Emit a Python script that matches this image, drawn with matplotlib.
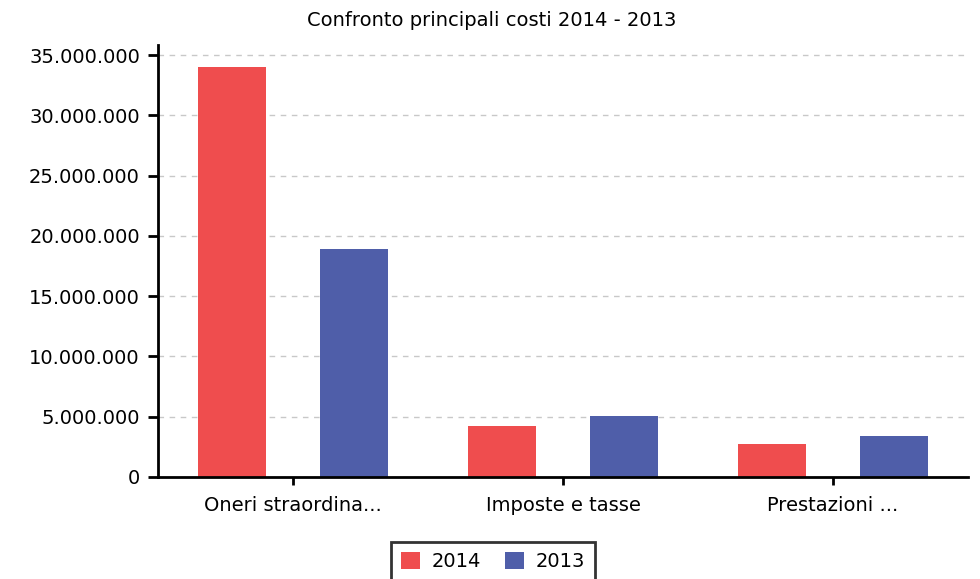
import matplotlib
matplotlib.use("Agg")
import matplotlib.pyplot as plt
import numpy as np
from matplotlib.ticker import FuncFormatter, MultipleLocator

categories = ["Oneri straordina...", "Imposte e tasse", "Prestazioni ..."]
values_2014 = [34000000, 4230000, 2740000]
values_2013 = [18920000, 5060000, 3400000]
series_labels = ["2014", "2013"]
colors = ["#ef4d4e", "#4f5ea9"]

fig = plt.figure(figsize=(9.8, 5.79), dpi=100)
ax = fig.add_axes([158 / 980, 1 - 477 / 579, 810 / 980, 431.6 / 579])

x = np.arange(len(categories))
w = 0.252
off = 0.226
ax.bar(x - off, values_2014, width=w, color=colors[0], label=series_labels[0], zorder=3)
ax.bar(x + off, values_2013, width=w, color=colors[1], label=series_labels[1], zorder=3)

ax.set_xlim(-0.5, 2.5)
ax.set_ylim(0, 35800000)
ax.yaxis.set_major_locator(MultipleLocator(5000000))
ax.yaxis.set_major_formatter(FuncFormatter(lambda v, p: f"{int(v):,}".replace(",", ".")))
ax.set_xticks(x)
ax.set_xticklabels(categories)

ax.grid(axis="y", color="#c8c8c8", linestyle=(0, (4, 4)), linewidth=1, zorder=0)
for s in ["top", "right"]:
    ax.spines[s].set_visible(False)
ax.spines["left"].set_linewidth(2)
ax.spines["bottom"].set_linewidth(2)
ax.spines["bottom"].set_zorder(4)
ax.tick_params(axis="y", length=7, width=2, labelsize=14, pad=6)
ax.tick_params(axis="x", length=6, width=2, labelsize=14, pad=8)

fig.text(492 / 980, 1 - 21 / 579, "Confronto principali costi 2014 - 2013",
         fontsize=14, ha="center", va="center")

leg = fig.legend(loc="lower center", bbox_to_anchor=(493 / 980, -0.02), ncol=2,
                 fontsize=14, frameon=True, fancybox=False, edgecolor="black",
                 handlelength=1.0, handleheight=1.0, columnspacing=1.2,
                 handletextpad=0.6, borderpad=0.5)
leg.get_frame().set_linewidth(2)

fig.savefig("out.png", dpi=100)
